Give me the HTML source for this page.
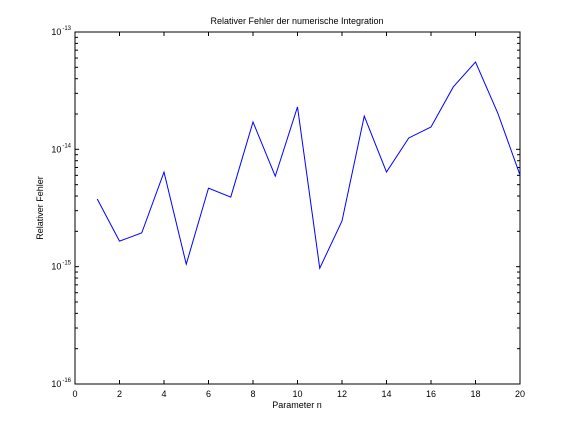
<!DOCTYPE html>
<html><head><meta charset="utf-8"><style>
html,body{margin:0;padding:0;background:#fff;}
svg{display:block;font-family:"Liberation Sans",sans-serif;}
</style></head><body>
<svg id="chart" width="576" height="432">
<rect x="0" y="0" width="576" height="432" fill="#fff"/>
<rect x="75" y="32" width="445" height="352" fill="#fff" stroke="#000" stroke-width="1"/>
<g id="ticks"></g>
<polyline id="series" fill="none" stroke="#0000ff" stroke-width="1"/>
<text x="297" y="24" font-size="9" text-anchor="middle">Relativer Fehler der numerische Integration</text>
<text x="297" y="408" font-size="9" text-anchor="middle">Parameter n</text>
<text transform="translate(43,208) rotate(-90)" font-size="9" text-anchor="middle">Relativer Fehler</text>
</svg>
<script>
const nValues=[1,2,3,4,5,6,7,8,9,10,11,12,13,14,15,16,17,18,19,20];
const errValues=[3.77e-15,1.65e-15,1.94e-15,6.4e-15,1.05e-15,4.67e-15,3.92e-15,1.71e-14,5.9e-15,2.3e-14,9.7e-16,2.45e-15,1.92e-14,6.4e-15,1.25e-14,1.55e-14,3.4e-14,5.55e-14,2.04e-14,6.04e-15];
const xTicks=[0,2,4,6,8,10,12,14,16,18,20];
const yDecades=[-16,-15,-14,-13];
const L=75,R=520,T=32,B=384,xMin=0,xMax=20,yMin=-16,yMax=-13;
function xs(v){return L+(v-xMin)/(xMax-xMin)*(R-L);}
function ys(v){return B-(Math.log10(v)-yMin)/(yMax-yMin)*(B-T);}
const NS="http://www.w3.org/2000/svg";
const g=document.getElementById('ticks');
function line(x1,y1,x2,y2,name){const l=document.createElementNS(NS,'line');l.setAttribute('x1',x1);l.setAttribute('y1',y1);l.setAttribute('x2',x2);l.setAttribute('y2',y2);l.setAttribute('stroke','#000');l.setAttribute('stroke-width','1');


g.appendChild(l);}
xTicks.forEach(t=>{const x=xs(t);line(x,B,x,B-4,'x-tick');line(x,T,x,T+4,'x-tick');
const tx=document.createElementNS(NS,'text');tx.setAttribute('x',x);tx.setAttribute('y',B+13);tx.setAttribute('font-size','9');tx.setAttribute('text-anchor','middle');tx.textContent=t;


g.appendChild(tx);});
yDecades.forEach(d=>{const y=ys(Math.pow(10,d));line(L,y,L+4,y,'y-tick');line(R,y,R-4,y,'y-tick');
const tx=document.createElementNS(NS,'text');tx.setAttribute('x',L-4);tx.setAttribute('y',y+3);tx.setAttribute('font-size','9');tx.setAttribute('text-anchor','end');
tx.innerHTML='10<tspan dx="1" dy="-5" font-size="6">'+d+'</tspan>';


g.appendChild(tx);
if(d<yMax){for(let k=2;k<10;k++){const yy=ys(k*Math.pow(10,d));line(L,yy,L+3,yy,'y-minor-tick');line(R,yy,R-3,yy,'y-minor-tick');}}});
document.getElementById('series').setAttribute('points',nValues.map((n,i)=>xs(n)+','+ys(errValues[i])).join(' '));
</script>
</body></html>
